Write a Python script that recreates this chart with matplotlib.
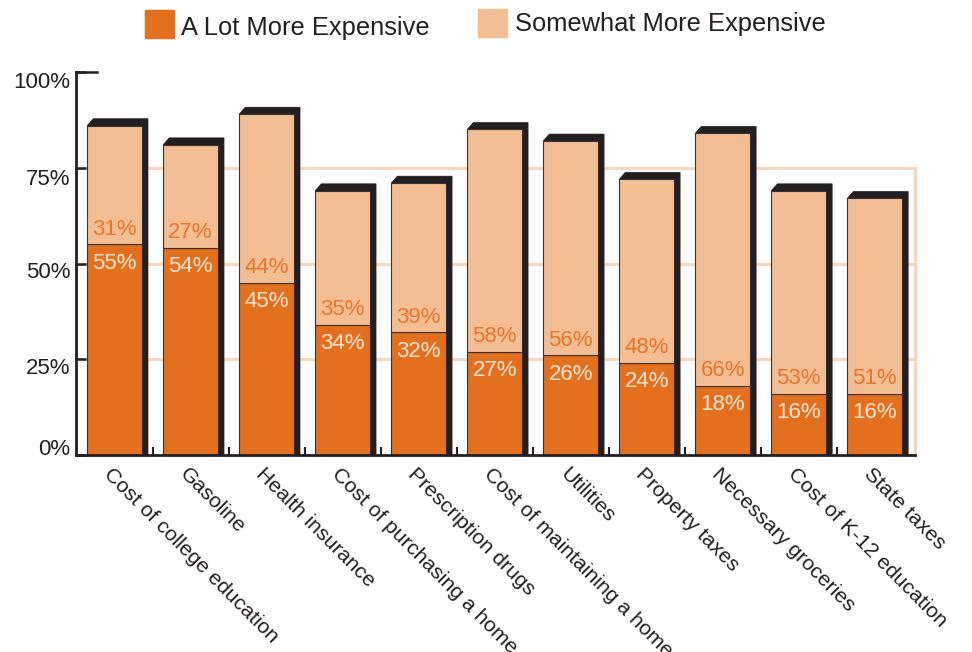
import matplotlib
matplotlib.use("Agg")
import matplotlib.pyplot as plt
from matplotlib.patches import Polygon, Rectangle
from matplotlib.transforms import ScaledTranslation

plt.rcParams["font.family"] = ["Liberation Sans", "DejaVu Sans"]

categorias = ["Cost of college education", "Gasoline", "Health insurance",
              "Cost of purchasing a home", "Prescription drugs",
              "Cost of maintaining a home", "Utilities", "Property taxes",
              "Necessary groceries", "Cost of K-12 education", "State taxes"]
muito_mais = [55, 54, 45, 34, 32, 27, 26, 24, 18, 16, 16]
um_pouco_mais = [31, 27, 44, 35, 39, 58, 56, 48, 66, 53, 51]
ticks_y = [0, 25, 50, 75, 100]
rotulos_y = ["0%", "25%", "50%", "75%", "100%"]

cor_escura = "#E2701F"
cor_clara = "#F4BE94"
cor_sombra = "#231F20"
cor_grade = "#F8D6BC"
cor_texto = "#231F20"

fig = plt.figure(figsize=(9.72, 6.52), dpi=100)
ax = fig.add_axes([76 / 972, 197 / 652, 839 / 972, 383 / 652])
ax.set_xlim(-0.507, 10.53)
ax.set_ylim(0, 100)

# grade em forma de caixa (25, 50, 75) atrás das barras
for v in [25, 50, 75]:
    ax.axhline(v, color=cor_grade, lw=2.2, zorder=0)

largura = 0.72
dx = 0.08
dy = 1.8
x = list(range(len(categorias)))
for i in x:
    total = muito_mais[i] + um_pouco_mais[i]
    x0 = i - largura / 2
    x1 = i + largura / 2
    sombra = Polygon([(x0, total), (x0 + dx, total + dy), (x1 + dx, total + dy),
                      (x1 + dx, 0), (x1, 0)], closed=True,
                     facecolor=cor_sombra, edgecolor=cor_sombra, lw=0.5, zorder=2)
    ax.add_patch(sombra)

ax.bar(x, muito_mais, width=largura, color=cor_escura, edgecolor="#3a3030",
       linewidth=0.8, zorder=3)
ax.bar(x, um_pouco_mais, width=largura, bottom=muito_mais, color=cor_clara,
       edgecolor="#3a3030", linewidth=0.8, zorder=3)

for i in x:
    ax.annotate(f"{muito_mais[i]}%", (i, muito_mais[i]), xytext=(0, -13.5),
                textcoords="offset points", ha="center", va="center",
                fontsize=16, color="#FCE4D2", zorder=4)
    ax.annotate(f"{um_pouco_mais[i]}%", (i, muito_mais[i]), xytext=(0, 11),
                textcoords="offset points", ha="center", va="center",
                fontsize=16, color="#E8762A", zorder=4)

# eixos
ax.spines["top"].set_visible(False)
ax.spines["right"].set_color(cor_grade)
ax.spines["right"].set_linewidth(2.2)
ax.spines["right"].set_bounds(0, 75)
ax.spines["left"].set_linewidth(2)
ax.spines["left"].set_color(cor_texto)
ax.spines["bottom"].set_linewidth(2)
ax.spines["bottom"].set_color(cor_texto)
ax.spines["left"].set_zorder(5)
ax.spines["bottom"].set_zorder(5)

ax.set_yticks(ticks_y)
ax.set_yticklabels(rotulos_y)
ax.tick_params(axis="y", direction="in", length=7, width=1.8, color=cor_texto,
               labelsize=16, labelcolor=cor_texto, pad=4, right=False)
ax.axhline(100, xmin=0, xmax=21 / 839, color=cor_texto, lw=1.8, clip_on=False, zorder=5)
desloc = [6, -5, -5, -7, -6]
for lbl, d in zip(ax.get_yticklabels(), desloc):
    lbl.set_transform(lbl.get_transform() + ScaledTranslation(0, d / 72, fig.dpi_scale_trans))

ax.set_xticks(x)
ax.set_xticklabels([])
ax.tick_params(axis="x", which="major", length=0)
ax.set_xticks([i + 0.5 for i in x[:-1]], minor=True)
ax.tick_params(axis="x", which="minor", direction="in", length=6, width=1.5,
               color=cor_texto)

for i in x:
    ax.text(i - 0.01, -2.5, categorias[i], rotation=-45, rotation_mode="anchor",
            ha="left", va="top", fontsize=15.3, color=cor_texto)

# legenda
fig.add_artist(Rectangle((145 / 972, 1 - 38 / 652), 29 / 972, 28 / 652,
                         transform=fig.transFigure, color=cor_escura))
fig.text(181 / 972, 1 - 28 / 652, "A Lot More Expensive", fontsize=18.4,
         va="center", ha="left", color=cor_texto)
fig.add_artist(Rectangle((478 / 972, 1 - 37 / 652), 29 / 972, 28 / 652,
                         transform=fig.transFigure, color=cor_clara))
fig.text(515 / 972, 1 - 24 / 652, "Somewhat More Expensive", fontsize=18.4,
         va="center", ha="left", color=cor_texto)

plt.savefig("out.png", dpi=100)
